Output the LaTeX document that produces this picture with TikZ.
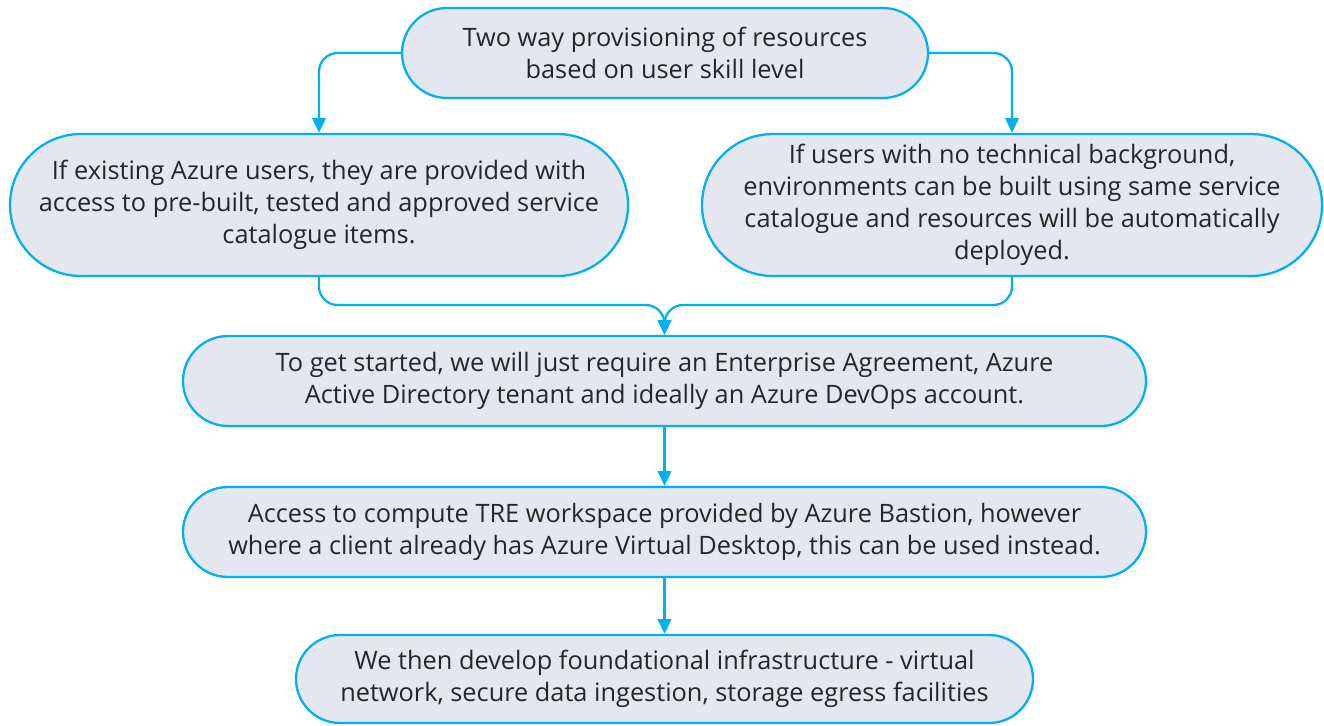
\documentclass[tikz,border=0pt]{standalone}
\usepackage{fontspec}
\setmainfont{Open Sans}
\usetikzlibrary{shapes.misc,arrows.meta}
\definecolor{boxfill}{HTML}{E4E7EF}
\definecolor{boxline}{HTML}{00B0F0}
\definecolor{txt}{HTML}{262626}
\begin{document}
\begin{tikzpicture}[x=0.75pt,y=-0.75pt,
  pill/.style={rounded rectangle, draw=boxline, fill=boxfill, line width=1.7pt,
    inner sep=0pt, align=center, text=txt,
    font=\fontsize{19}{24}\selectfont},
  conn/.style={draw=boxline, line width=1.7pt, rounded corners=14pt,
    -{Triangle[length=11pt,width=10pt]}}]
\useasboundingbox (0,0) rectangle (1324,725);
\node[pill, minimum width=394.5pt, minimum height=67.5pt] (T) at (665,53)
  {Two way provisioning of resources\\based on user skill level};
\node[pill, minimum width=463.5pt, minimum height=106.5pt] (L) at (319,205)
  {If existing Azure users, they are provided with\\access to pre-built, tested and approved service\\catalogue items.};
\node[pill, minimum width=465pt, minimum height=106.5pt] (R) at (1012,205)
  {If users with no technical background,\\environments can be built using same service\\catalogue and resources will be automatically\\deployed.};
\node[pill, minimum width=722.25pt, minimum height=67.5pt] (M1) at (664.5,381)
  {To get started, we will just require an Enterprise Agreement, Azure\\Active Directory tenant and ideally an Azure DevOps account.};
\node[pill, minimum width=722.25pt, minimum height=67.5pt] (M2) at (664.5,532)
  {Access to compute TRE workspace provided by Azure Bastion, however\\where a client already has Azure Virtual Desktop, this can be used instead.};
\node[pill, minimum width=552.75pt, minimum height=66pt] (B) at (664.5,679)
  {We then develop foundational infrastructure - virtual\\network, secure data ingestion, storage egress facilities};
\coordinate (m) at (664.5,305);
\draw[conn] (T.west) -| (L.north);
\draw[conn] (T.east) -| (R.north);
\draw[conn] (L.south) |- (m) -- (M1.north);
\draw[conn] (R.south) |- (m) -- (M1.north);
\draw[conn] (M1.south) -- (M2.north);
\draw[conn] (M2.south) -- (B.north);
\end{tikzpicture}
\end{document}
